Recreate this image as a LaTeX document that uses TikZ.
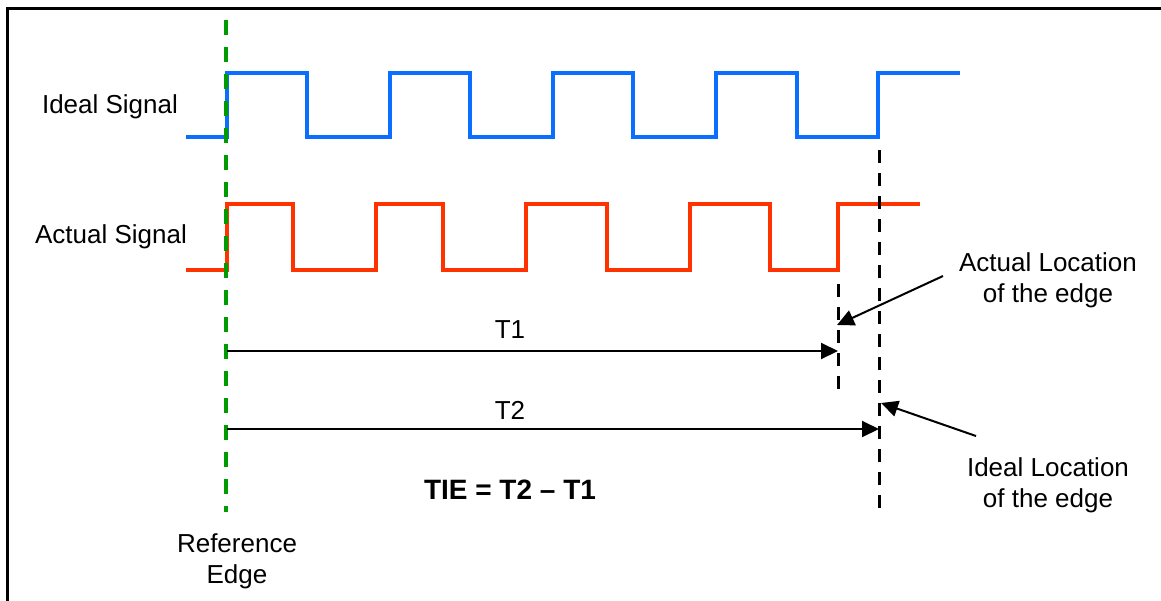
\documentclass[tikz,border=0pt]{standalone}
\usepackage{fontspec}
\setmainfont{Liberation Sans}
\usetikzlibrary{arrows.meta}
\definecolor{sigblue}{RGB}{10,110,255}
\definecolor{sigred}{RGB}{255,51,0}
\definecolor{refgreen}{RGB}{0,155,0}
\begin{document}
\begin{tikzpicture}[x=1pt,y=-1pt,
  lbl/.style={font=\fontsize{26}{31}\selectfont, align=center, inner sep=0pt},
  sig/.style={line width=4pt, line join=miter},
  edgeline/.style={black, line width=3pt, dash pattern=on 13pt off 10pt},
  refline/.style={refgreen, line width=4pt, dash pattern=on 15pt off 12pt},
  ptr/.style={line width=2pt, -{Triangle[length=17pt,width=16pt]}},
]
\useasboundingbox (0,0) rectangle (1161,600);
% frame
\draw[line width=3pt] (7,602) -- (7,8) -- (1163,8);
% signals
\draw[sig, sigblue] (186,137) -- (227,137) -- (227,73) -- (307,73) -- (307,137) -- (390,137) -- (390,73) -- (470,73) -- (470,137) -- (553,137) -- (553,73) -- (633,73) -- (633,137) -- (716,137) -- (716,73) -- (797,73) -- (797,137) -- (878,137) -- (878,73) -- (960,73);
\draw[sig, sigred] (186,270) -- (227,270) -- (227,204) -- (293,204) -- (293,270) -- (376,270) -- (376,204) -- (443,204) -- (443,270) -- (526,270) -- (526,204) -- (607,204) -- (607,270) -- (690,270) -- (690,204) -- (770,204) -- (770,270) -- (838,270) -- (838,204) -- (920,204);
% edge coordinates
\coordinate (reftop) at (226,20);
\coordinate (refbot) at (226,512);
\coordinate (acttop) at (838,284);
\coordinate (actbot) at (838,392);
\coordinate (idltop) at (879,150);
\coordinate (idlbot) at (879,510);
\coordinate (t1start) at (227,351);
\coordinate (t1end) at (838,351);
\coordinate (t2start) at (227,429);
\coordinate (t2end) at (879,429);
\coordinate (actptr) at (837,325);
\coordinate (actptrtail) at (943,276);
\coordinate (idlptr) at (881,403);
\coordinate (idlptrtail) at (976,436);
% dashed lines
\draw[refline] (reftop) -- (refbot);
\draw[edgeline] (acttop) -- (actbot);
\draw[edgeline] (idltop) -- (idlbot);
% labels
\node[lbl] (ideal) at (110,107) {Ideal Signal};
\node[lbl] (actual) at (111,237) {Actual Signal};
\node[lbl] (t1) at (510,330) {T1};
\node[lbl] (t2) at (510,410) {T2};
\node[lbl, font=\bfseries\fontsize{28}{31}\selectfont] (tie) at (510,490) {TIE = T2 -- T1};
\node[lbl] (ref) at (237,561) {Reference\\Edge};
\node[lbl] (actloc) at (1048,280) {Actual Location\\of the edge};
\node[lbl] (idlloc) at (1048,485) {Ideal Location\\of the edge};
% arrows
\draw[ptr] (t1start) -- (t1end);
\draw[ptr] (t2start) -- (t2end);
\draw[ptr] (actptrtail) -- (actptr);
\draw[ptr] (idlptrtail) -- (idlptr);
\end{tikzpicture}
\end{document}
